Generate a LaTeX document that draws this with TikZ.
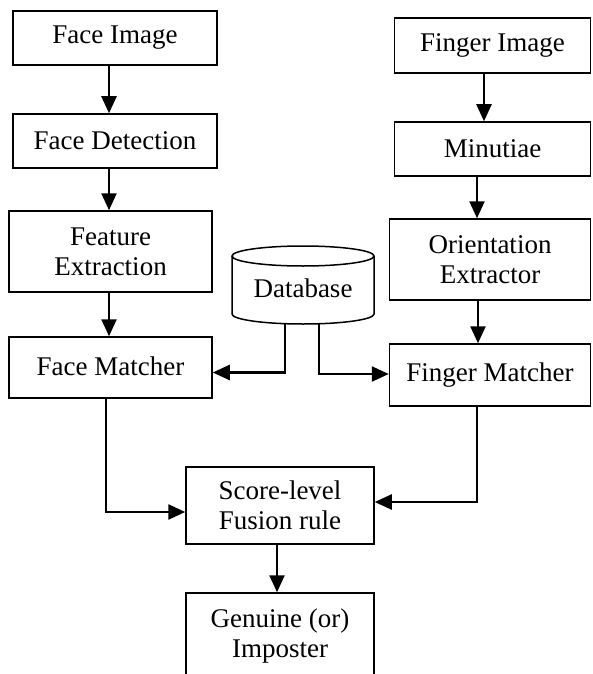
\documentclass[tikz,border=0pt]{standalone}
\usepackage{fontspec}
\setmainfont{Liberation Serif}
\usetikzlibrary{arrows.meta}
\begin{document}
\begin{tikzpicture}[x=1pt,y=-1pt,
  blk/.style={draw, line width=1.5pt, align=center, inner sep=0pt,
    font=\fontsize{27}{30}\selectfont},
  arr/.style={line width=2.5pt, -{Triangle[length=17pt,width=15pt]}},
]
\useasboundingbox (0,0) rectangle (592,674);

% face branch
\node[blk, minimum width=204pt, minimum height=54pt] (faceimg)   at (115,38)    {Face Image};
\node[blk, minimum width=204pt, minimum height=54pt] (facedet)   at (115,141)   {Face Detection};
\node[blk, minimum width=203pt, minimum height=81pt] (featext)   at (110.5,251.5) {Feature\\Extraction};
\node[blk, minimum width=203pt, minimum height=61pt] (facematch) at (110.5,367.5) {\raisebox{2pt}{Face Matcher}};

% finger branch
\node[blk, minimum width=196pt, minimum height=55pt] (fingimg)   at (492.5,45.5)  {Finger Image};
\node[blk, minimum width=196pt, minimum height=54pt] (minut)     at (492.5,149)   {Minutiae};
\node[blk, minimum width=201pt, minimum height=81pt] (orient)    at (490,259.5)   {Orientation\\Extractor};
\node[blk, minimum width=201pt, minimum height=62pt] (fingmatch) at (490,375)     {\raisebox{4pt}{Finger Matcher}};

% fusion and decision
\node[blk, minimum width=188pt, minimum height=77pt] (score)     at (280,505.5)   {Score-level\\Fusion rule};
\node[blk, minimum width=188pt, minimum height=86pt] (genuine)   at (280,636)     {Genuine (or)\\Imposter};

% database cylinder
\draw[line width=1.5pt] (232,256) -- (232,314)
  arc[start angle=180, end angle=360, x radius=71pt, y radius=10pt] -- (374,256);
\draw[line width=1.5pt] (303,256) ellipse [x radius=71pt, y radius=10pt];
\node[font=\fontsize{27}{30}\selectfont] (db) at (303,288) {Database};
\coordinate (dbl) at (285,323.5);
\coordinate (dbr) at (319,322.5);

% column guides for the vertical connectors
\coordinate (lc) at (109,0);
\coordinate (lo) at (106,0);
\coordinate (rc1) at (484,0);
\coordinate (rc2) at (477,0);
\coordinate (rc3) at (478,0);
\coordinate (mc) at (277,0);

% connectors
\draw[arr] (faceimg.south -| lc) -- (facedet.north -| lc);
\draw[arr] (facedet.south -| lc) -- (featext.north -| lc);
\draw[arr] (featext.south -| lc) -- (facematch.north -| lc);

\draw[arr] (fingimg.south -| rc1) -- (minut.north -| rc1);
\draw[arr] (minut.south -| rc2) -- (orient.north -| rc2);
\draw[arr] (orient.south -| rc3) -- (fingmatch.north -| rc3);

\draw[arr] (dbl) |- ([yshift=-5pt]facematch.east);
\draw[arr] (dbr) |- ([yshift=1pt]fingmatch.west);

\draw[arr] (facematch.south -| lo) |- ([yshift=-6.5pt]score.west);
\draw[arr] (fingmatch.south -| rc2) |- ([yshift=3.5pt]score.east);
\draw[arr] (score.south -| mc) -- (genuine.north -| mc);
\end{tikzpicture}
\end{document}
